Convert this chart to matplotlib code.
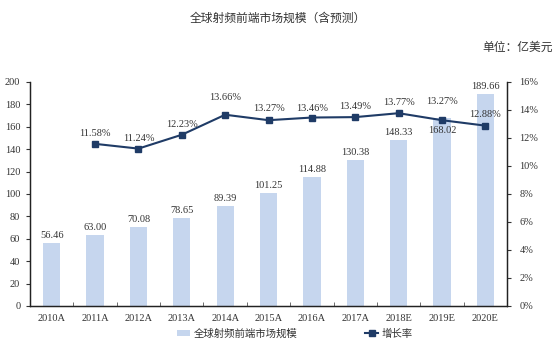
import numpy as np
import matplotlib.pyplot as plt
from matplotlib.ticker import FuncFormatter, MultipleLocator, FixedLocator

plt.rcParams['font.family'] = ['Liberation Serif', 'Noto Sans CJK SC']

years = ['2010A', '2011A', '2012A', '2013A', '2014A', '2015A',
         '2016A', '2017A', '2018E', '2019E', '2020E']
market = [56.46, 63.00, 70.08, 78.65, 89.39, 101.25,
          114.88, 130.38, 148.33, 168.02, 189.66]
growth_years = years[1:]
growth = [11.58, 11.24, 12.23, 13.66, 13.27, 13.46, 13.49, 13.77, 13.27, 12.88]

bar_color = '#c6d6ee'
line_color = '#1f3b66'
text_color = '#333333'

fig = plt.figure(figsize=(5.56, 3.43), dpi=100)
ax = fig.add_axes([0.054, 0.108, 0.858, 0.653])
ax2 = ax.twinx()

x = np.arange(len(years))
bars = ax.bar(x, market, width=0.4, color=bar_color, zorder=2,
              label='全球射频前端市场规模')

# value labels above bars; 2019E sits just under the growth marker
for i, v in enumerate(market):
    off = 3
    if years[i] == '2019E':
        off = -17
    ax.annotate(f'{v:.2f}', (x[i], v), xytext=(0, off), textcoords='offset pixels',
                ha='center', va='bottom', fontsize=7.5, color=text_color)

gx = x[1:]
ax2.plot(gx, [g / 100 for g in growth], color=line_color, lw=1.5,
         marker='s', markersize=4.5, label='增长率', zorder=3)

label_off = [6, 6, 6, 13, 7, 5, 6, 6, 14, 7]
for xi, g, off in zip(gx, growth, label_off):
    ax2.annotate(f'{g:.2f}%', (xi, g / 100), xytext=(0, off), textcoords='offset pixels',
                 ha='center', va='bottom', fontsize=7.5, color=text_color)

ax.set_xlim(-0.5, len(years) - 0.5)
ax.set_ylim(0, 200)
ax.yaxis.set_major_locator(MultipleLocator(20))
ax2.set_ylim(0, 0.16)
ax2.yaxis.set_major_locator(MultipleLocator(0.02))
ax2.yaxis.set_major_formatter(FuncFormatter(lambda v, p: f'{v * 100:.0f}%'))

ax.set_xticks(x)
ax.set_xticklabels(years)
ax.xaxis.set_minor_locator(FixedLocator(np.arange(-0.5, len(years), 1.0)))
ax.tick_params(axis='x', which='major', length=0, pad=6)
ax.tick_params(axis='x', which='minor', length=3, direction='in', color='#555555')
ax.tick_params(axis='y', length=3, direction='out', labelsize=7.5, colors=text_color, pad=4)
ax.tick_params(axis='x', labelsize=7.5, colors=text_color)
ax2.tick_params(axis='y', length=3, direction='out', labelsize=7.5, colors=text_color, pad=6)

for a in (ax, ax2):
    a.spines['top'].set_visible(False)
    for s in ('left', 'right', 'bottom'):
        a.spines[s].set_color('#222222')
        a.spines[s].set_linewidth(0.9)

fig.text(0.5, 0.945, '全球射频前端市场规模（含预测）', ha='center', va='center',
         fontsize=8.5, color=text_color)
fig.text(0.995, 0.862, '单位：亿美元', ha='right', va='center',
         fontsize=8.5, color=text_color)

h1, l1 = ax.get_legend_handles_labels()
h2, l2 = ax2.get_legend_handles_labels()
fig.legend(h1 + h2, l1 + l2, loc='center', bbox_to_anchor=(0.53, 0.028), ncol=2,
           frameon=False, fontsize=7.5, handlelength=1.3, handleheight=0.5,
           handletextpad=0.3, columnspacing=6.5, labelcolor=text_color)

fig.savefig('out.png', dpi=100)
